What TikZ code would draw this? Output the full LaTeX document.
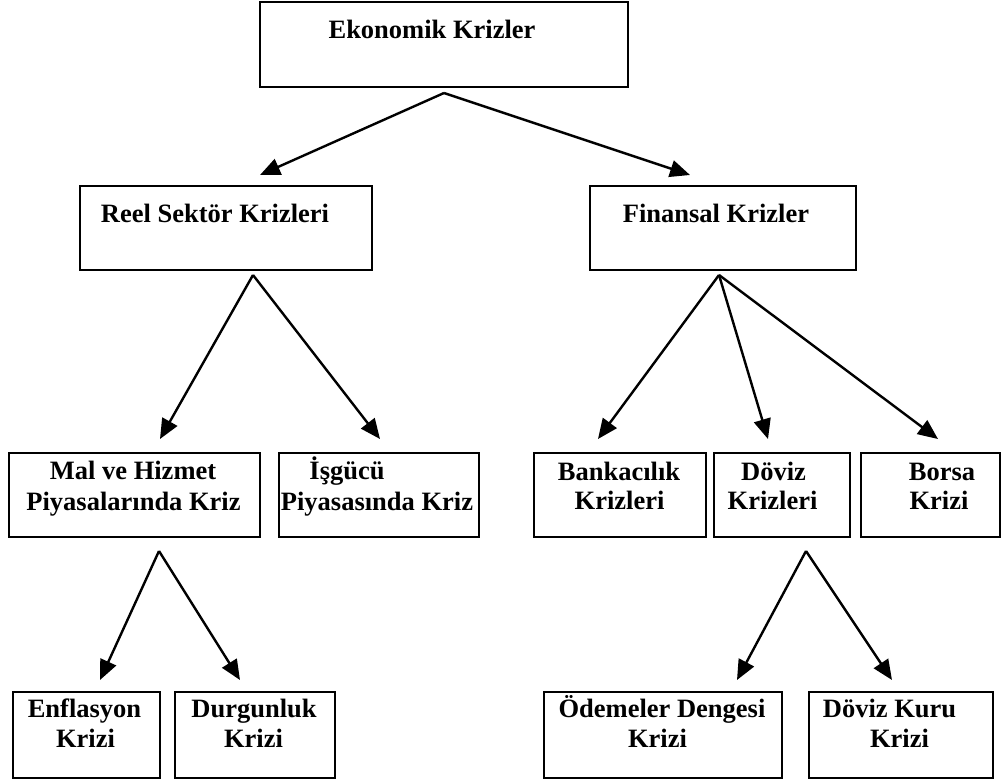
\documentclass[tikz,border=0pt]{standalone}
\usepackage{fontspec}
\setmainfont{Liberation Serif}
\usetikzlibrary{arrows.meta}
\begin{document}
\begin{tikzpicture}[x=1pt,y=-1pt,
  box/.style={draw, line width=1.5pt, inner sep=0pt, anchor=north west},
  txt/.style={font=\fontsize{26.5}{30}\selectfont\bfseries, inner sep=0pt, anchor=base},
  conn/.style={line width=2.4pt, -{Triangle[length=20pt,width=17pt]}}]
\useasboundingbox (0,0) rectangle (1001,782);
% boxes
\node[box, minimum width=368pt, minimum height=85pt] (ek) at (259,1) {};
\node[box, minimum width=292pt, minimum height=84pt] (reel) at (79,185) {};
\node[box, minimum width=266pt, minimum height=84pt] (fin) at (589,185) {};
\node[box, minimum width=251pt, minimum height=84pt] (mal) at (8,452) {};
\node[box, minimum width=200pt, minimum height=84pt] (isg) at (278,452) {};
\node[box, minimum width=172pt, minimum height=84pt] (bank) at (533,452) {};
\node[box, minimum width=136pt, minimum height=84pt] (dov) at (713,452) {};
\node[box, minimum width=139pt, minimum height=84pt] (bor) at (860,452) {};
\node[box, minimum width=147pt, minimum height=86pt] (enf) at (12,691) {};
\node[box, minimum width=160pt, minimum height=86pt] (dur) at (174,691) {};
\node[box, minimum width=238pt, minimum height=86pt] (ode) at (543,691) {};
\node[box, minimum width=184pt, minimum height=86pt] (kur) at (808,691) {};
% texts
\node[txt] (tek) at (432,38) {Ekonomik Krizler};
\node[txt] (treel) at (215,222) {Reel Sektör Krizleri};
\node[txt] (tfin) at (716,222) {Finansal Krizler};
\node[txt] (tmal1) at (133,479) {Mal ve Hizmet};
\node[txt] (tmal2) at (133.5,510) {Piyasalarında Kriz};
\node[txt] (tisg1) at (347,479) {İşgücü};
\node[txt] (tisg2) at (377,510) {Piyasasında Kriz};
\node[txt] (tbank1) at (619,480) {Bankacılık};
\node[txt] (tbank2) at (619.5,509) {Krizleri};
\node[txt] (tdov1) at (773.5,480) {Döviz};
\node[txt] (tdov2) at (772.5,509) {Krizleri};
\node[txt] (tbor1) at (942,480) {Borsa};
\node[txt] (tbor2) at (939,509) {Krizi};
\node[txt] (tenf1) at (84.5,717) {Enflasyon};
\node[txt] (tenf2) at (85.5,747) {Krizi};
\node[txt] (tdur1) at (254,717) {Durgunluk};
\node[txt] (tdur2) at (253.5,747) {Krizi};
\node[txt] (tode1) at (662,717) {Ödemeler Dengesi};
\node[txt] (tode2) at (657.5,747) {Krizi};
\node[txt] (tkur1) at (889.5,717) {Döviz Kuru};
\node[txt] (tkur2) at (899.5,747) {Krizi};
% apex and tip coordinates
\coordinate (aek) at (444,93);
\coordinate (areel) at (253,275);
\coordinate (afin) at (719,275);
\coordinate (amal) at (159,551);
\coordinate (adov) at (806,551);
\coordinate (preel) at (260,175);
\coordinate (pfin) at (690,175);
\coordinate (pmal) at (160,439);
\coordinate (pisg) at (380,439);
\coordinate (pbank) at (598,439);
\coordinate (pdov) at (768,439);
\coordinate (pbor) at (938,439);
\coordinate (penf) at (100,680);
\coordinate (pdur) at (240,680);
\coordinate (pode) at (737,680);
\coordinate (pkur) at (892,680);
% connectors
\draw[conn] (aek) -- (preel);
\draw[conn] (aek) -- (pfin);
\draw[conn] (areel) -- (pmal);
\draw[conn] (areel) -- (pisg);
\draw[conn] (afin) -- (pbank);
\draw[conn] (afin) -- (pdov);
\draw[conn] (afin) -- (pbor);
\draw[conn] (amal) -- (penf);
\draw[conn] (amal) -- (pdur);
\draw[conn] (adov) -- (pode);
\draw[conn] (adov) -- (pkur);
\end{tikzpicture}
\end{document}
